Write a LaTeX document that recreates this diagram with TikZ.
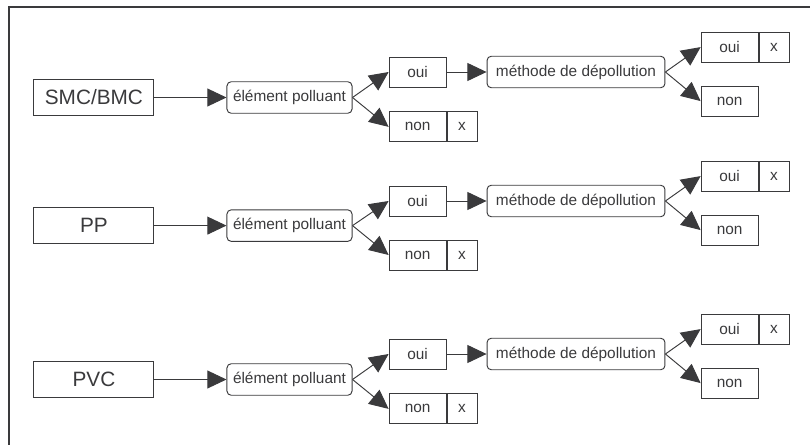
\documentclass[tikz,border=0pt]{standalone}
\usepackage{fontspec}
\setmainfont{Liberation Sans}
\usepackage{xcolor}
\usepackage{tikz}
\usetikzlibrary{arrows.meta, positioning}

\definecolor{ink}{HTML}{3A3A3C}

\begin{document}
\begin{tikzpicture}[
  every node/.style={font=\fontsize{14.6}{16}\selectfont, text=ink},
  box/.style={rectangle, draw=ink, line width=0.9pt, minimum width=1.9cm,
              minimum height=1cm, inner sep=1pt, align=center},
  mainbox/.style={box, minimum width=4cm, minimum height=1.2cm,
                  font=\fontsize{19.7}{22}\selectfont},
  question/.style={box, rounded corners=4pt, minimum height=1.05cm},
  xbox/.style={box, minimum width=1cm},
  arr/.style={draw=ink, line width=0.9pt,
              -{Triangle[length=0.64cm, width=0.6cm]}},
]
  \useasboundingbox (0,0) rectangle (27,-14.833);
  \draw[ink, line width=1.8pt] (0.3,-14.9) -- (0.3,-0.233) -- (27.1,-0.233);

  % SMC/BMC
  \node[mainbox] (smc) at (3.13,-3.25) {SMC/BMC};
  \node[question, minimum width=4.17cm] (pol1) at (9.65,-3.25) {élément polluant};
  \node[box] (oui1) at (13.92,-2.4) {oui};
  \node[box] (non1) at (13.92,-4.23) {non};
  \node[xbox, right=0pt of non1] (nonx1) {x};
  \node[question, minimum width=5.93cm] (dep1) at (19.2,-2.4) {méthode de dépollution};
  \node[box] (ok1) at (24.32,-1.57) {oui};
  \node[xbox, right=0pt of ok1] (okx1) {x};
  \node[box] (ko1) at (24.32,-3.37) {non};

  % PP
  \node[mainbox] (pp) at (3.13,-7.52) {PP};
  \node[question, minimum width=4.17cm] (pol2) at (9.65,-7.52) {élément polluant};
  \node[box] (oui2) at (13.92,-6.7) {oui};
  \node[box] (non2) at (13.92,-8.5) {non};
  \node[xbox, right=0pt of non2] (nonx2) {x};
  \node[question, minimum width=5.93cm] (dep2) at (19.2,-6.7) {méthode de dépollution};
  \node[box] (ok2) at (24.32,-5.87) {oui};
  \node[xbox, right=0pt of ok2] (okx2) {x};
  \node[box] (ko2) at (24.32,-7.67) {non};

  % PVC
  \node[mainbox] (pvc) at (3.13,-12.65) {PVC};
  \node[question, minimum width=4.17cm] (pol3) at (9.65,-12.65) {élément polluant};
  \node[box] (oui3) at (13.92,-11.8) {oui};
  \node[box] (non3) at (13.92,-13.63) {non};
  \node[xbox, right=0pt of non3] (nonx3) {x};
  \node[question, minimum width=5.93cm] (dep3) at (19.2,-11.8) {méthode de dépollution};
  \node[box] (ok3) at (24.32,-10.97) {oui};
  \node[xbox, right=0pt of ok3] (okx3) {x};
  \node[box] (ko3) at (24.32,-12.77) {non};

  \draw[arr] (smc) -- (pol1);
  \draw[arr] (pol1.east) -- (oui1.west);
  \draw[arr] (pol1.east) -- (non1.west);
  \draw[arr] (oui1) -- (dep1);
  \draw[arr] (dep1.east) -- (ok1.west);
  \draw[arr] (dep1.east) -- (ko1.west);

  \draw[arr] (pp) -- (pol2);
  \draw[arr] (pol2.east) -- (oui2.west);
  \draw[arr] (pol2.east) -- (non2.west);
  \draw[arr] (oui2) -- (dep2);
  \draw[arr] (dep2.east) -- (ok2.west);
  \draw[arr] (dep2.east) -- (ko2.west);

  \draw[arr] (pvc) -- (pol3);
  \draw[arr] (pol3.east) -- (oui3.west);
  \draw[arr] (pol3.east) -- (non3.west);
  \draw[arr] (oui3) -- (dep3);
  \draw[arr] (dep3.east) -- (ok3.west);
  \draw[arr] (dep3.east) -- (ko3.west);
\end{tikzpicture}
\end{document}
